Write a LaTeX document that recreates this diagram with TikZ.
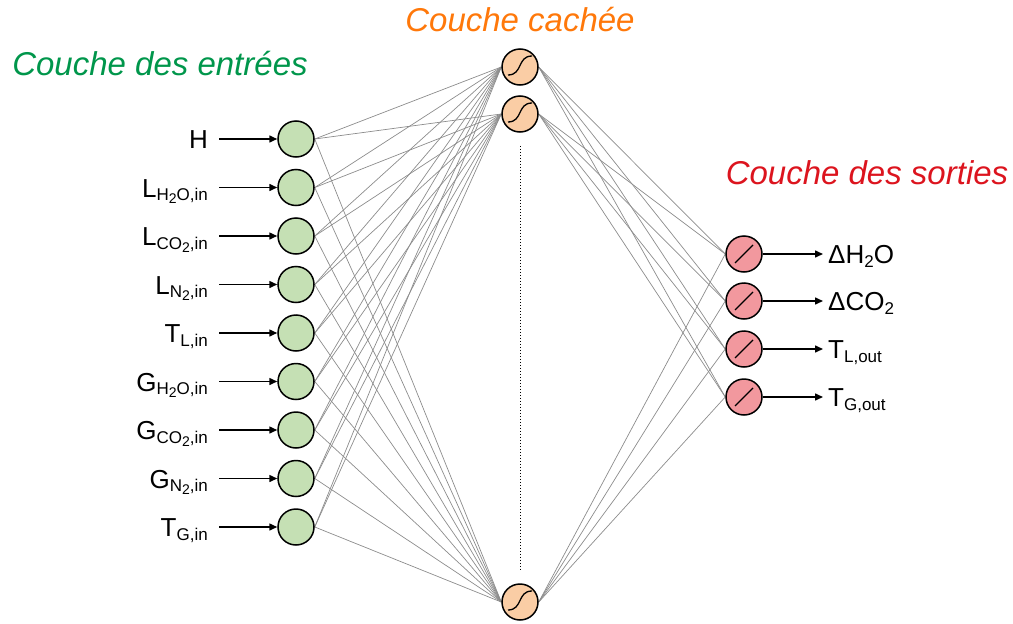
\documentclass[tikz,border=0pt]{standalone}
\usepackage{fontspec}
\setmainfont{Liberation Sans}
\usepackage{tikz}
\usetikzlibrary{arrows.meta,backgrounds}
\definecolor{ingreen}{RGB}{197,224,180}
\definecolor{hidorange}{RGB}{250,205,165}
\definecolor{outred}{RGB}{242,152,158}
\definecolor{ttlgreen}{RGB}{0,150,75}
\definecolor{ttlorange}{RGB}{255,120,10}
\definecolor{ttlred}{RGB}{220,20,30}
\definecolor{wirecol}{RGB}{140,140,140}
\newcommand{\idx}[1]{\raisebox{-3.5pt}{\fontsize{17}{17}\selectfont #1}}
\newcommand{\idxx}[1]{\raisebox{-3pt}{\fontsize{14}{14}\selectfont #1}}

\begin{document}
\begin{tikzpicture}[x=1pt,y=-1pt,
  neur/.style={circle,draw=black,line width=1.5pt,minimum size=36pt,inner sep=0pt},
  innode/.style={neur,fill=ingreen},
  hidnode/.style={neur,fill=hidorange,path picture={
    \draw[line width=1.3pt] ([shift={(-12pt,-8pt)}]path picture bounding box.center)
      .. controls +(15pt,0pt) and +(-15pt,0pt) .. ([shift={(12pt,11pt)}]path picture bounding box.center);}},
  outnode/.style={neur,fill=outred,path picture={
    \draw[line width=1.3pt] ([shift={(-9pt,-9pt)}]path picture bounding box.center)
      -- ([shift={(9pt,9pt)}]path picture bounding box.center);}},
  wire/.style={draw=wirecol,line width=0.7pt},
  arr/.style={-{Triangle[length=8pt,width=7pt]},line width=1.5pt},
  lbl/.style={font=\fontsize{26}{30}\selectfont,inner sep=0pt},
  ttl/.style={font=\fontsize{33}{38}\selectfont\itshape}
]
\useasboundingbox (0,0) rectangle (1013,624);

% titles
\node[ttl,text=ttlgreen] (tin) at (160,64) {Couche des entrées};
\node[ttl,text=ttlorange] (thid) at (520,20) {Couche cachée};
\node[ttl,text=ttlred] (tout) at (867,173) {Couche des sorties};

% input layer
\foreach \i/\txt in {1/H,
    2/{L\idx{H\idxx{2}O,in}},
    3/{L\idx{CO\idxx{2},in}},
    4/{L\idx{N\idxx{2},in}},
    5/{T\idx{L,in}},
    6/{G\idx{H\idxx{2}O,in}},
    7/{G\idx{CO\idxx{2},in}},
    8/{G\idx{N\idxx{2},in}},
    9/{T\idx{G,in}}} {
  \node[innode] (in\i) at (296,{139+48.5*(\i-1)}) {};
  \coordinate (src\i) at (219,{139+48.5*(\i-1)});
  \node[lbl,anchor=base east] (lab\i) at (208,{148.5+48.5*(\i-1)}) {\txt};
  \draw[arr] (src\i) -- (in\i);
}

% hidden layer
\node[hidnode] (hid1) at (520,67) {};
\node[hidnode] (hid2) at (520,114) {};
\node[hidnode] (hid3) at (520,602) {};
\draw[dotted,line width=1pt,shorten <=13pt,shorten >=14pt] (hid2) -- (hid3);

% output layer
\foreach \j/\yy/\txt in {1/254/{ΔH\idx{2}O},
    2/301/{ΔCO\idx{2}},
    3/349/{T\idx{L,out}},
    4/397/{T\idx{G,out}}} {
  \node[outnode] (out\j) at (744,\yy) {};
  \coordinate (dst\j) at (823,\yy);
  \node[lbl,anchor=base west] (res\j) at (828,\yy+9.5) {\txt};
  \draw[arr] (out\j) -- (dst\j);
}

\begin{scope}[on background layer]
\foreach \i in {1,...,9}
  \foreach \h in {1,2,3}
    \draw[wire] (in\i.east) -- (hid\h.west);
\foreach \h in {1,2,3}
  \foreach \j in {1,...,4}
    \draw[wire] (hid\h.east) -- (out\j.west);
\end{scope}
\end{tikzpicture}
\end{document}
